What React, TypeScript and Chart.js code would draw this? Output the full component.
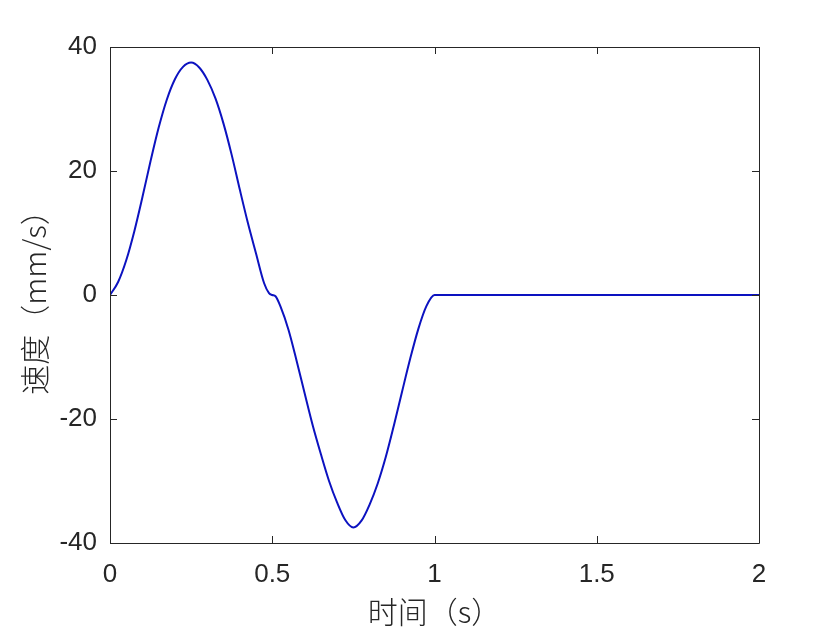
import React, { useEffect, useRef } from "react";
import { Chart, registerables } from "chart.js";

Chart.register(...registerables);

const timeS = [
  0, 0.025, 0.05, 0.075, 0.1, 0.125, 0.15, 0.175, 0.2, 0.225, 0.25,
  0.275, 0.3, 0.325, 0.35, 0.375, 0.4, 0.425, 0.45, 0.475, 0.49, 0.5, 0.51,
  0.525, 0.55, 0.575, 0.6, 0.625, 0.65, 0.675, 0.7, 0.725, 0.75,
  0.775, 0.8, 0.825, 0.85, 0.875, 0.9, 0.925, 0.95, 0.975, 1.0,
  1.5, 2.0,
];
const velocity = [
  0, 2.1, 5.6, 10.3, 15.8, 21.6, 27.0, 31.5, 34.8, 36.8, 37.5,
  36.7, 34.7, 31.7, 27.6, 22.6, 17.0, 11.6, 6.7, 1.9, 0.3, 0, -0.2,
  -1.8, -5.6, -10.6, -15.9, -21.1, -25.7, -30.0, -33.5, -36.3, -37.5,
  -36.4, -33.8, -30.4, -26.1, -21.0, -15.6, -10.3, -5.5, -1.8, 0,
  0, 0,
];
const xTicks = [0, 0.5, 1, 1.5, 2];
const yTicks = [-40, -20, 0, 20, 40];
const xLabel = "时间（s）";
const yLabel = "速度（mm/s）";

const AXIS_COLOR = "#262626";
const LINE_COLOR = "#0c12c0";

const framePlugin = {
  id: "matlabFrame",
  afterDraw(chart: any) {
    const { ctx, chartArea } = chart;
    const { left, right, top, bottom } = chartArea;
    const xs = chart.scales.x;
    const ys = chart.scales.y;
    const len = 7;
    ctx.save();
    ctx.strokeStyle = AXIS_COLOR;
    ctx.lineWidth = 1;
    ctx.beginPath();
    ctx.rect(Math.round(left) + 0.5, Math.round(top) + 0.5, Math.round(right - left), Math.round(bottom - top));
    for (const v of xTicks) {
      const px = Math.round(xs.getPixelForValue(v)) + 0.5;
      ctx.moveTo(px, bottom);
      ctx.lineTo(px, bottom - len);
      ctx.moveTo(px, top);
      ctx.lineTo(px, top + len);
    }
    for (const v of yTicks) {
      const py = Math.round(ys.getPixelForValue(v)) + 0.5;
      ctx.moveTo(left, py);
      ctx.lineTo(left + len, py);
      ctx.moveTo(right, py);
      ctx.lineTo(right - len, py);
    }
    ctx.stroke();
    ctx.restore();
  },
};

export default function App() {
  const ref = useRef<HTMLCanvasElement | null>(null);
  useEffect(() => {
    document.body.style.margin = "0";
    const canvas = ref.current;
    if (!canvas) return;
    const tickFont = { family: "'Liberation Sans', Arial, sans-serif", size: 26 };
    const titleFont = { family: "'Noto Sans CJK SC', 'Liberation Sans', sans-serif", size: 30, weight: "300" };
    const chart = new Chart(canvas, {
      type: "line",
      data: {
        datasets: [
          {
            data: timeS.map((t, i) => ({ x: t, y: velocity[i] })),
            borderColor: LINE_COLOR,
            borderWidth: 2,
            pointRadius: 0,
            fill: false,
            cubicInterpolationMode: "monotone",
          },
        ],
      },
      options: {
        responsive: false,
        animation: false,
        layout: { padding: { left: 0, top: 47, right: 81, bottom: 0 } },
        plugins: { legend: { display: false }, tooltip: { enabled: false } },
        scales: {
          x: {
            type: "linear",
            min: 0,
            max: 2,
            afterBuildTicks: (s: any) => {
              s.ticks = xTicks.map((v) => ({ value: v }));
            },
            afterFit: (s: any) => {
              s.height = 87;
            },
            grid: { display: false, drawTicks: false },
            border: { display: false },
            ticks: {
              color: AXIS_COLOR,
              font: tickFont,
              padding: 16,
              maxRotation: 0,
              callback: (v: any) => String(v),
            },
            title: {
              display: true,
              text: xLabel,
              color: AXIS_COLOR,
              font: titleFont,
              padding: { top: 0, bottom: 0 },
            },
          },
          y: {
            type: "linear",
            min: -40,
            max: 40,
            afterBuildTicks: (s: any) => {
              s.ticks = yTicks.map((v) => ({ value: v }));
            },
            afterFit: (s: any) => {
              s.width = 110;
            },
            grid: { display: false, drawTicks: false },
            border: { display: false },
            ticks: {
              color: AXIS_COLOR,
              font: tickFont,
              padding: 13,
              callback: (v: any) => String(v),
            },
            title: {
              display: true,
              text: yLabel,
              color: AXIS_COLOR,
              font: titleFont,
              padding: { top: 17, bottom: 0 },
            },
          },
        },
      },
      plugins: [framePlugin],
    } as any);
    return () => chart.destroy();
  }, []);
  return (
    <div style={{ position: "absolute", left: 0, top: 0, width: 840, height: 630, background: "#fff" }}>
      <canvas ref={ref} width={840} height={630} />
    </div>
  );
}
